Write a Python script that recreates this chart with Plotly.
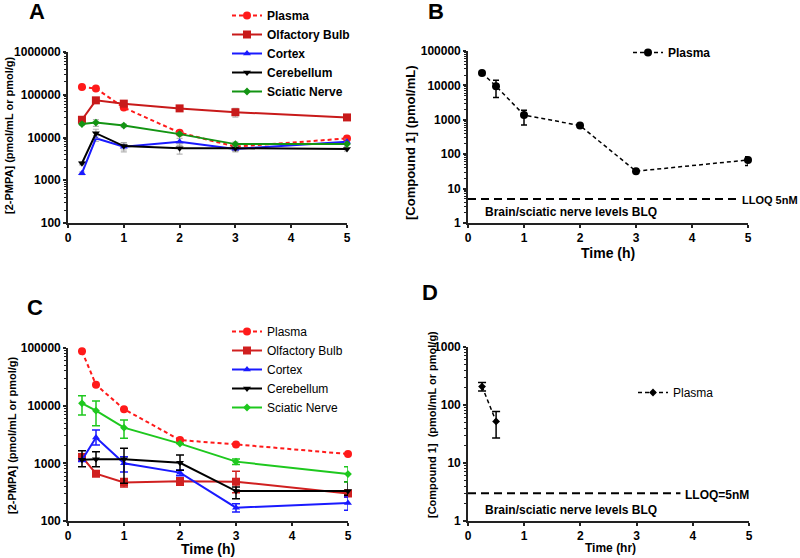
import plotly.graph_objects as go

# ---------------- data ----------------
time_h = [0.25, 0.5, 1, 2, 3, 5]
series_names = ["Plasma", "Olfactory Bulb", "Cortex", "Cerebellum", "Sciatic Nerve"]

# Panel A
A_plasma = [152000, 140000, 50000, 13000, 6100, 9500]
A_olf = [26000, 74000, 62000, 48000, 39000, 29500]
A_cortex = [1460, 9600, 6100, 8000, 5400, 8000]
A_cereb = [2500, 12600, 6300, 5600, 5600, 5400]
A_sciatic = [20600, 22300, 19000, 12000, 7000, 7000]
A_plasma_err = [0, 0, 5000, 1500, 1200, 1500]
A_olf_err = [3000, 8000, 6000, 4000, 9000, 3000]
A_cortex_err = [100, 1500, 1500, 1500, 800, 1200]
A_cereb_err = [200, 3000, 1200, 1500, 800, 600]
A_sciatic_err = [1500, 4000, 1500, 1000, 800, 800]

# Panel B
B_plasma = [23000, 9500, 1380, 680, 32, 68]
B_err_plus = [0, 4600, 530, 0, 0, 17]
B_err_minus = [0, 5050, 675, 0, 0, 21]

# Panel C
C_plasma = [87500, 23000, 8700, 2530, 2130, 1450]
C_olf = [1290, 660, 465, 490, 480, 300]
C_cortex = [1140, 2800, 1000, 690, 170, 205]
C_cereb = [1150, 1180, 1180, 1020, 330, 330]
C_sciatic = [11000, 8200, 4160, 2200, 1070, 650]
C_olf_plus = [60, 40, 80, 70, 250, 40]
C_olf_minus = [60, 40, 75, 73, 170, 40]
C_cortex_plus = [60, 1000, 300, 80, 30, 56]
C_cortex_minus = [60, 730, 290, 80, 27, 52]
C_cereb_plus = [500, 410, 640, 370, 60, 148]
C_cereb_minus = [280, 310, 730, 260, 86, 51]
C_sciatic_plus = [3800, 3900, 1500, 0, 120, 220]
C_sciatic_minus = [4100, 3700, 1450, 0, 120, 175]

# Panel D
time_D = [0.25, 0.5]
D_plasma = [208, 52]
D_err_plus = [37, 25]
D_err_minus = [33, 25]

lloq_B = 5
lloq_D = 3
lloq_B_end = 4.8
lloq_D_end = 3.78

x_ticks = [0, 1, 2, 3, 4, 5]
yticks_A = [100, 1000, 10000, 100000, 1000000]
yticks_B = [1, 10, 100, 1000, 10000, 100000]
yticks_C = [100, 1000, 10000, 100000]
yticks_D = [1, 10, 100, 1000]

# ---------------- styling ----------------
FONT = "Liberation Sans, Arial, sans-serif"
W, H = 800, 558
AXC = "#222222"


def px(x):
    return x / W


def py(y):
    return 1 - y / H


colA = {"Plasma": "#ff1a1a", "Olfactory Bulb": "#c81a1a", "Cortex": "#1a1aff",
        "Cerebellum": "#000000", "Sciatic Nerve": "#139413"}
colC = {"Plasma": "#ff1a1a", "Olfactory Bulb": "#d02020", "Cortex": "#1a1aff",
        "Cerebellum": "#000000", "Sciatic Nerve": "#1ec81e"}
sym = {"Plasma": "circle", "Olfactory Bulb": "square", "Cortex": "triangle-up",
       "Cerebellum": "triangle-down", "Sciatic Nerve": "diamond"}
msize = {"Plasma": 8, "Olfactory Bulb": 8, "Cortex": 7, "Cerebellum": 7, "Sciatic Nerve": 6}

fig = go.Figure()

A_vals = [A_plasma, A_olf, A_cortex, A_cereb, A_sciatic]
A_errs = [A_plasma_err, A_olf_err, A_cortex_err, A_cereb_err, A_sciatic_err]
for name, vals, err in zip(series_names, A_vals, A_errs):
    c = colA[name]
    fig.add_trace(go.Scatter(
        x=time_h, y=vals, name=name, mode="lines+markers",
        line=dict(color=c, width=2, dash="4px,3px" if name == "Plasma" else "solid"),
        marker=dict(symbol=sym[name], size=msize[name], color=c),
        error_y=dict(type="data", array=err, color="rgba(150,150,150,0.7)", thickness=1.2, width=3),
        xaxis="x", yaxis="y", legend="legend", cliponaxis=False))

fig.add_trace(go.Scatter(
    x=time_h, y=B_plasma, name="Plasma", mode="lines+markers",
    line=dict(color="black", width=1.5, dash="4px,3px"),
    marker=dict(symbol="circle", size=8, color="black"),
    error_y=dict(type="data", array=B_err_plus, arrayminus=B_err_minus, color="black", thickness=1.5, width=3),
    xaxis="x2", yaxis="y2", legend="legend2", cliponaxis=False))

C_vals = [C_plasma, C_olf, C_cortex, C_cereb, C_sciatic]
C_plus = [[0] * 6, C_olf_plus, C_cortex_plus, C_cereb_plus, C_sciatic_plus]
C_minus = [[0] * 6, C_olf_minus, C_cortex_minus, C_cereb_minus, C_sciatic_minus]
for name, vals, ep, em in zip(series_names, C_vals, C_plus, C_minus):
    c = colC[name]
    fig.add_trace(go.Scatter(
        x=time_h, y=vals, name=name, mode="lines+markers",
        line=dict(color=c, width=2, dash="4px,3px" if name == "Plasma" else "solid"),
        marker=dict(symbol=sym[name], size=msize[name], color=c),
        error_y=dict(type="data", array=ep, arrayminus=em, color=c, thickness=1.5, width=4),
        xaxis="x3", yaxis="y3", legend="legend3", cliponaxis=False))

fig.add_trace(go.Scatter(
    x=time_D, y=D_plasma, name="Plasma", mode="lines+markers",
    line=dict(color="black", width=1.5, dash="4px,3px"),
    marker=dict(symbol="diamond", size=6, color="black"),
    error_y=dict(type="data", array=D_err_plus, arrayminus=D_err_minus, color="black", thickness=1.5, width=4),
    xaxis="x4", yaxis="y4", legend="legend4", cliponaxis=False))

# LLOQ lines
fig.add_trace(go.Scatter(x=[0, lloq_B_end], y=[lloq_B, lloq_B], mode="lines", showlegend=False,
                         line=dict(color="black", width=2, dash="8px,5px"), xaxis="x2", yaxis="y2"))
fig.add_trace(go.Scatter(x=[0, lloq_D_end], y=[lloq_D, lloq_D], mode="lines", showlegend=False,
                         line=dict(color="black", width=2, dash="8px,5px"), xaxis="x4", yaxis="y4"))


def xax(dom, anchor):
    return dict(domain=dom, anchor=anchor, range=[0, 5], tickvals=x_ticks,
                ticktext=[str(t) for t in x_ticks], showline=True, linecolor=AXC,
                linewidth=1.6, ticks="outside", ticklen=3, tickwidth=1.6, tickcolor=AXC,
                showgrid=False, zeroline=False,
                tickfont=dict(family=FONT, size=12, color="black", weight="bold"))


def yax(dom, anchor, ticks, rng):
    return dict(domain=dom, anchor=anchor, type="log", range=rng, tickvals=ticks,
                ticktext=[str(t) for t in ticks], showline=True, linecolor=AXC,
                linewidth=1.6, ticks="outside", ticklen=3, tickwidth=1.6, tickcolor=AXC,
                showgrid=False, zeroline=False,
                minor=dict(ticks="outside", ticklen=2, tickwidth=1, tickcolor=AXC,
                           tickmode="linear", dtick="D1"),
                tickfont=dict(family=FONT, size=12, color="black", weight="bold"))


def legend_at(x, y, bold):
    return dict(x=px(x), y=py(y), xanchor="left", yanchor="top", bgcolor="rgba(0,0,0,0)",
                font=dict(family=FONT, size=12, color="black", weight="bold" if bold else "normal"),
                tracegroupgap=0, itemwidth=30)


annotations = []


def ann(text, x, y, size, bold=True, angle=0, xanchor="center"):
    annotations.append(dict(text=text, x=px(x), y=py(y), xref="paper", yref="paper",
                            showarrow=False, textangle=angle, xanchor=xanchor, yanchor="middle",
                            font=dict(family=FONT, size=size, color="black",
                                      weight="bold" if bold else "normal")))


ann("A", 37, 12, 22)
ann("B", 436, 12, 22)
ann("C", 35, 307, 22)
ann("D", 430, 292, 22)
ann("[2-PMPA] (pmol/mL or pmol/g)", 9, 135, 11, angle=-90)
ann("[Compound 1] (pmol/mL)", 410, 142, 13, angle=-90)
ann("[2-PMPA] (pmol/mL or pmol/g)", 12, 435, 11, angle=-90)
ann("[Compound 1]  (pmol/mL or pmol/g)", 432, 425, 11, angle=-90)
ann("Time (h)", 608, 253, 14)
ann("Time (h)", 208, 549, 14)
ann("Time (hr)", 610, 548, 12)
ann("LLOQ 5nM", 740, 200, 11, xanchor="left")
ann("Brain/sciatic nerve levels BLQ", 483, 212, 12, xanchor="left")
ann("LLOQ=5nM", 683, 495, 12, xanchor="left")
ann("Brain/sciatic nerve levels BLQ", 483, 510, 12, xanchor="left")

fig.update_layout(
    width=W, height=H, margin=dict(l=0, r=0, t=0, b=0, autoexpand=False),
    paper_bgcolor="white", plot_bgcolor="white",
    font=dict(family=FONT, color="black"),
    xaxis=xax([px(68), px(347)], "y"),
    yaxis=yax([py(223), py(52)], "x", yticks_A, [2, 6]),
    xaxis2=xax([px(468), px(748)], "y2"),
    yaxis2=yax([py(223), py(51)], "x2", yticks_B, [0, 5]),
    xaxis3=xax([px(68), px(348)], "y3"),
    yaxis3=yax([py(521), py(348)], "x3", yticks_C, [2, 5]),
    xaxis4=xax([px(468), px(749)], "y4"),
    yaxis4=yax([py(521), py(347)], "x4", yticks_D, [0, 3]),
    legend=legend_at(227, 1, True),
    legend2=legend_at(628, 38, True),
    legend3=legend_at(227, 317, False),
    legend4=legend_at(633, 378, False),
    annotations=annotations,
)

fig.write_html("out.html", config={"displayModeBar": False},
               post_script="document.body.style.margin='0';")
